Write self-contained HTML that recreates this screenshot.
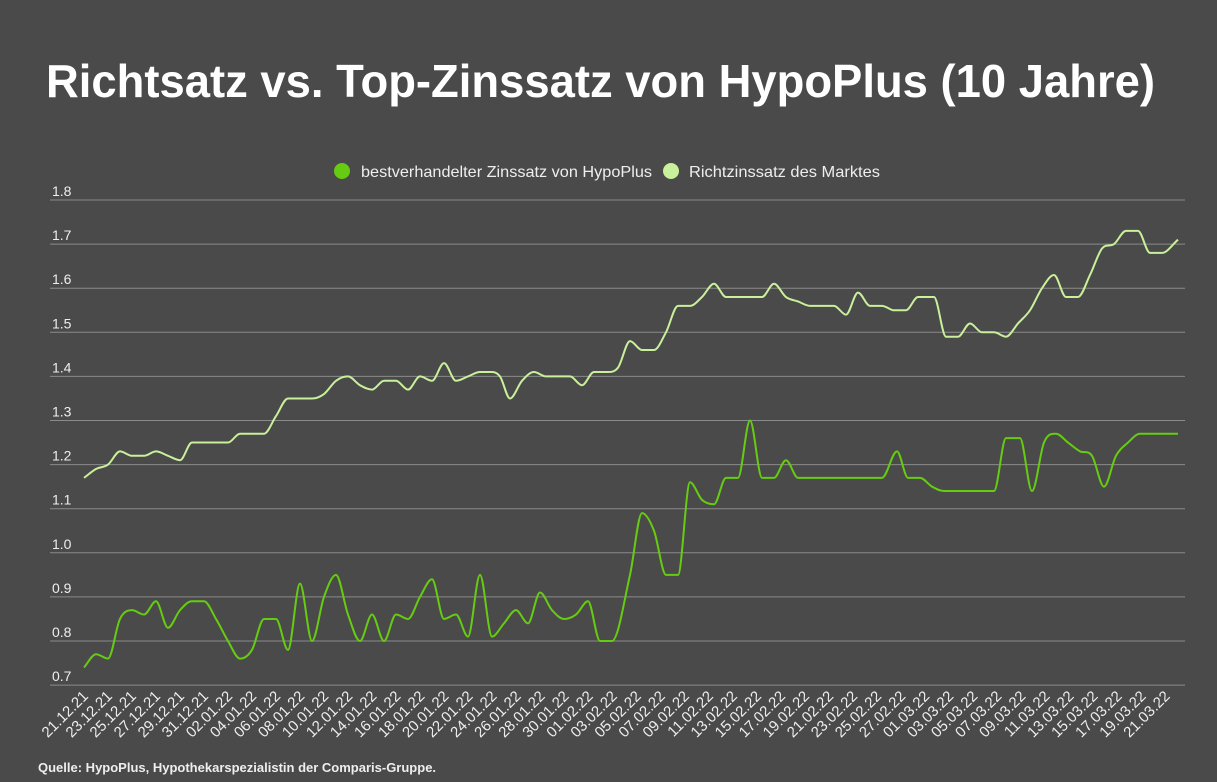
<!DOCTYPE html>
<html><head><meta charset="utf-8"><style>
html,body{margin:0;padding:0;background:#4a4a4a;}
svg{display:block;font-family:"Liberation Sans",sans-serif;}
</style></head><body>
<svg id="s" width="1217" height="782" viewBox="0 0 1217 782" xmlns="http://www.w3.org/2000/svg">
<rect width="1217" height="782" fill="#4a4a4a"/>
<text x="46" y="97" fill="#fff" font-size="46" font-weight="bold" textLength="1109" lengthAdjust="spacingAndGlyphs">Richtsatz vs. Top-Zinssatz von HypoPlus (10 Jahre)</text>
<circle cx="342" cy="171" r="8" fill="#66cc11"/>
<text x="361" y="177" fill="#eee" font-size="16" textLength="291" lengthAdjust="spacingAndGlyphs">bestverhandelter Zinssatz von HypoPlus</text>
<circle cx="671" cy="171" r="8" fill="#c9f09a"/>
<text x="689" y="177" fill="#eee" font-size="16" textLength="191" lengthAdjust="spacingAndGlyphs">Richtzinssatz des Marktes</text>
<g id="grid"></g>
<g id="xl"></g>
<path id="p2" fill="none" stroke="#c9f09a" stroke-width="2"/>
<path id="p1" fill="none" stroke="#66cc11" stroke-width="2"/>
<text x="38" y="772" fill="#eee" font-size="13" font-weight="bold">Quelle: HypoPlus, Hypothekarspezialistin der Comparis-Gruppe.</text>
</svg>
<script>
var NS="http://www.w3.org/2000/svg";
function Y(v){return 200+(1.8-v)*441;}
var g=document.getElementById('grid');
for(var i=0;i<=11;i++){var v=1.8-i*0.1,y=Y(v);
 var l=document.createElementNS(NS,'line');l.setAttribute('x1',50);l.setAttribute('x2',1185);l.setAttribute('y1',y);l.setAttribute('y2',y);l.setAttribute('stroke','#8a8a8a');l.setAttribute('stroke-width','1');g.appendChild(l);
 var t=document.createElementNS(NS,'text');t.setAttribute('x',52);t.setAttribute('y',y-4);t.setAttribute('fill','#eee');t.setAttribute('font-size','14');t.textContent=v.toFixed(1);g.appendChild(t);}
var xl=document.getElementById('xl');
var d0=new Date(2021,11,21);
for(var k=0;k<=90;k+=2){var d=new Date(d0.getTime()+k*86400000);
 var s=('0'+d.getDate()).slice(-2)+'.'+('0'+(d.getMonth()+1)).slice(-2)+'.'+String(d.getFullYear()).slice(2);
 var x=84+k*12.02+5,y=697;
 var t=document.createElementNS(NS,'text');t.setAttribute('x',x);t.setAttribute('y',y);t.setAttribute('fill','#eee');t.setAttribute('font-size','15');t.setAttribute('text-anchor','end');t.setAttribute('transform','rotate(-45 '+x+' '+y+')');t.textContent=s;xl.appendChild(t);}
var r=[[84,1.17],[96,1.19],[108,1.20],[120,1.23],[132,1.22],[144,1.22],[156,1.23],[168,1.22],[180,1.21],[192,1.25],[204,1.25],[216,1.25],[228,1.25],[240,1.27],[252,1.27],[264,1.27],[276,1.31],[288,1.35],[300,1.35],[312,1.35],[324,1.36],[336,1.39],[348,1.40],[360,1.38],[372,1.37],[384,1.39],[396,1.39],[408,1.37],[420,1.40],[432,1.39],[444,1.43],[456,1.39],[468,1.40],[480,1.41],[492,1.41],[500,1.40],[510,1.35],[522,1.39],[534,1.41],[546,1.40],[558,1.40],[570,1.40],[582,1.38],[594,1.41],[606,1.41],[618,1.42],[630,1.48],[642,1.46],[654,1.46],[666,1.50],[678,1.56],[690,1.56],[702,1.58],[714,1.61],[726,1.58],[738,1.58],[750,1.58],[762,1.58],[774,1.61],[786,1.58],[798,1.57],[810,1.56],[822,1.56],[834,1.56],[846,1.54],[858,1.59],[870,1.56],[882,1.56],[894,1.55],[906,1.55],[918,1.58],[934,1.58],[946,1.49],[958,1.49],[970,1.52],[982,1.50],[994,1.50],[1006,1.49],[1018,1.52],[1030,1.55],[1042,1.60],[1054,1.63],[1066,1.58],[1078,1.58],[1090,1.63],[1102,1.69],[1114,1.70],[1126,1.73],[1138,1.73],[1150,1.68],[1162,1.68],[1178,1.71]];
var b=[[84,0.74],[96,0.77],[108,0.76],[120,0.85],[132,0.87],[144,0.86],[156,0.89],[168,0.83],[180,0.87],[192,0.89],[204,0.89],[216,0.85],[228,0.80],[240,0.76],[252,0.78],[264,0.85],[276,0.85],[288,0.78],[300,0.93],[312,0.80],[324,0.90],[336,0.95],[348,0.86],[360,0.80],[372,0.86],[384,0.80],[396,0.86],[408,0.85],[420,0.90],[432,0.94],[444,0.85],[456,0.86],[468,0.81],[480,0.95],[492,0.81],[504,0.84],[516,0.87],[528,0.84],[540,0.91],[552,0.87],[564,0.85],[576,0.86],[588,0.89],[600,0.80],[612,0.80],[630,0.95],[642,1.09],[654,1.05],[666,0.95],[678,0.95],[690,1.16],[702,1.12],[714,1.11],[726,1.17],[738,1.17],[750,1.30],[762,1.17],[774,1.17],[786,1.21],[798,1.17],[882,1.17],[897,1.23],[908,1.17],[920,1.17],[932,1.15],[944,1.14],[994,1.14],[1006,1.26],[1020,1.26],[1032,1.14],[1044,1.25],[1056,1.27],[1068,1.25],[1080,1.23],[1092,1.22],[1104,1.15],[1116,1.22],[1128,1.25],[1140,1.27],[1178,1.27]];
function path(p){var pts=p.map(function(a){return [a[0],Y(a[1])];});var n=pts.length,m=[];
 var dl=[];for(var i=0;i<n-1;i++)dl.push((pts[i+1][1]-pts[i][1])/(pts[i+1][0]-pts[i][0]));
 for(var i=0;i<n;i++){if(i==0)m.push(dl[0]);else if(i==n-1)m.push(dl[n-2]);else if(dl[i-1]*dl[i]<=0)m.push(0);else m.push((dl[i-1]+dl[i])/2);}
 var s='M'+pts[0][0]+','+pts[0][1];
 for(var i=0;i<n-1;i++){var h=(pts[i+1][0]-pts[i][0])/3;s+=' C'+(pts[i][0]+h)+','+(pts[i][1]+m[i]*h)+' '+(pts[i+1][0]-h)+','+(pts[i+1][1]-m[i+1]*h)+' '+pts[i+1][0]+','+pts[i+1][1];}
 return s;}
document.getElementById('p2').setAttribute('d',path(r));
document.getElementById('p1').setAttribute('d',path(b));
</script>
</body></html>
